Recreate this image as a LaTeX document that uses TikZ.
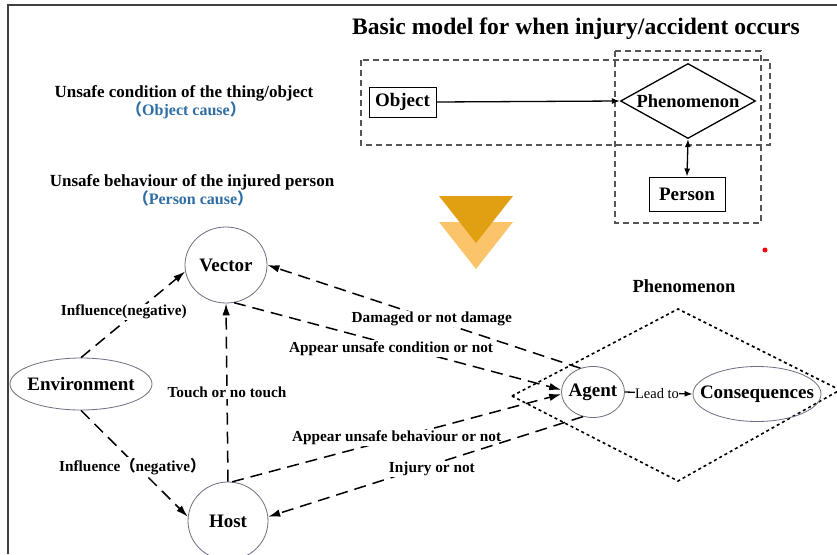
\documentclass[tikz,border=0pt]{standalone}
\usepackage{fontspec}
\setmainfont{Liberation Serif}
\newfontfamily\cjk{Noto Sans CJK SC}
\usetikzlibrary{shapes.geometric,arrows.meta}
\definecolor{ncol}{HTML}{6E6E84}
\definecolor{bluetxt}{HTML}{2F6EA5}
\definecolor{darkor}{HTML}{E0A012}
\definecolor{lightor}{HTML}{FBC46B}
\definecolor{boxgray}{HTML}{555555}
\begin{document}
\begin{tikzpicture}[x=1pt,y=-1pt,
  lab/.style={font=\bfseries\fontsize{15.3}{18}\selectfont, fill=white, inner sep=1pt},
  nd/.style={ellipse, draw=ncol, line width=0.8pt, inner sep=0pt},
  ntext/.style={font=\bfseries\fontsize{19}{22}\selectfont, inner sep=0pt},
  bx/.style={rectangle, draw, line width=1pt, font=\bfseries\fontsize{19}{22}\selectfont, inner sep=0pt},
  con/.style={dash pattern=on 12pt off 7pt, line width=1.5pt, -{Latex[length=12pt,width=7.5pt]}},
  dbox/.style={draw=boxgray, line width=1.1pt, dash pattern=on 6pt off 4pt},
  side/.style={font=\bfseries\fontsize{17}{20}\selectfont},
  sideb/.style={font=\bfseries\fontsize{16}{19}\selectfont, text=bluetxt}]
\useasboundingbox (0,0) rectangle (837,554);
\fill[white] (0,0) rectangle (837,554);
% frame
\draw[line width=2pt, black!75] (8,554) -- (8,5) -- (837,5);
% title
\node[font=\bfseries\fontsize{23.6}{27}\selectfont] (title) at (576,29) {Basic model for when injury/accident occurs};
% side texts
\node[side] (t1) at (184,93) {Unsafe condition of the thing/object};
\node[sideb] (t1b) at (186,110) {{\cjk （}Object cause{\cjk ）}};
\node[side] (t2) at (192,182) {Unsafe behaviour of the injured person};
\node[sideb] (t2b) at (193,198) {{\cjk （}Person cause{\cjk ）}};
% dashed boxes
\draw[dbox] (361,60) rectangle (770,145);
\draw[dbox] (615,51) rectangle (761,223);
% top model
\node[bx, minimum width=67pt, minimum height=30pt] (obj) at (402.5,102) {Object};
\node[diamond, draw, line width=1.3pt, aspect=1.8, minimum width=135pt, minimum height=75pt, inner sep=0pt, font=\bfseries\fontsize{18.5}{22}\selectfont] (phen) at (688,101) {Phenomenon};
\node[bx, minimum width=76pt, minimum height=34pt] (pers) at (687,194) {Person};
\draw[line width=1.3pt, -{Latex[length=8pt,width=6pt]}] (obj.east) -- (phen.west);
\draw[line width=1.3pt, {Latex[length=8pt,width=6pt]}-{Latex[length=8pt,width=6pt]}] (phen.south) -- (pers.north);
% triangles
\fill[lightor] (439,222) -- (513,222) -- (476,269) -- cycle;
\fill[darkor] (439,196) -- (513,196) -- (476,243) -- cycle;
% red dot
\fill[red] (765,250) circle (2.5pt);
% phenomenon dotted diamond
\node[font=\bfseries\fontsize{18.5}{22}\selectfont] (phlab) at (684,286) {Phenomenon};
\draw[line width=1.6pt, dash pattern=on 3pt off 3pt] (512,396) -- (678,309) -- (840,390) -- (678,481) -- cycle;
% bottom nodes
\node[nd, minimum width=142pt, minimum height=52pt] (env) at (81,384) {};
\node[ntext] (envt) at (env.center) {Environment};
\node[nd, minimum width=82pt, minimum height=76pt] (vec) at (226,265) {};
\node[ntext] (vect) at (vec.center) {Vector};
\node[nd, minimum width=80pt, minimum height=78pt] (host) at (228,521) {};
\node[ntext] (hostt) at (host.center) {Host};
\node[nd, minimum width=63pt, minimum height=51pt] (agent) at (593,392) {};
\node[ntext] (agentt) at (agent.center) {Agent};
\node[nd, minimum width=128pt, minimum height=55pt] (cons) at (757,394) {};
\node[ntext] (const) at (cons.center) {Consequences};
% connectors
\draw[con] (env.north) -- node[lab, pos=0.45, xshift=-4pt, yshift=7pt] {Influence(negative)} (vec.189);
\draw[con] (env.south) -- node[lab, pos=0.48, yshift=-5pt] {Influence{\cjk （}negative{\cjk ）}} (host.174);
\draw[con] (host.north) -- node[lab] {Touch or no touch} (vec.south);
\draw[con] (agent.118) -- node[lab, pos=0.475] {Damaged or not damage} (vec.east);
\draw[con] (vec.-78) -- node[lab, pos=0.48, yshift=-4pt] {Appear unsafe condition or not} (agent.176);
\draw[con] (host.84) -- node[lab, pos=0.5] {Appear unsafe behaviour or not} (agent.184);
\draw[con] (agent.-112) -- node[lab, pos=0.48, yshift=-4pt] {Injury or not} (host.6);
\draw[line width=1.3pt, -{Latex[length=8pt,width=6pt]}] (agent.east) -- (cons.west);
\node[fill=white, inner sep=0.5pt, font=\fontsize{14.5}{17}\selectfont] (leadto) at (657,394) {Lead to};
\end{tikzpicture}
\end{document}
